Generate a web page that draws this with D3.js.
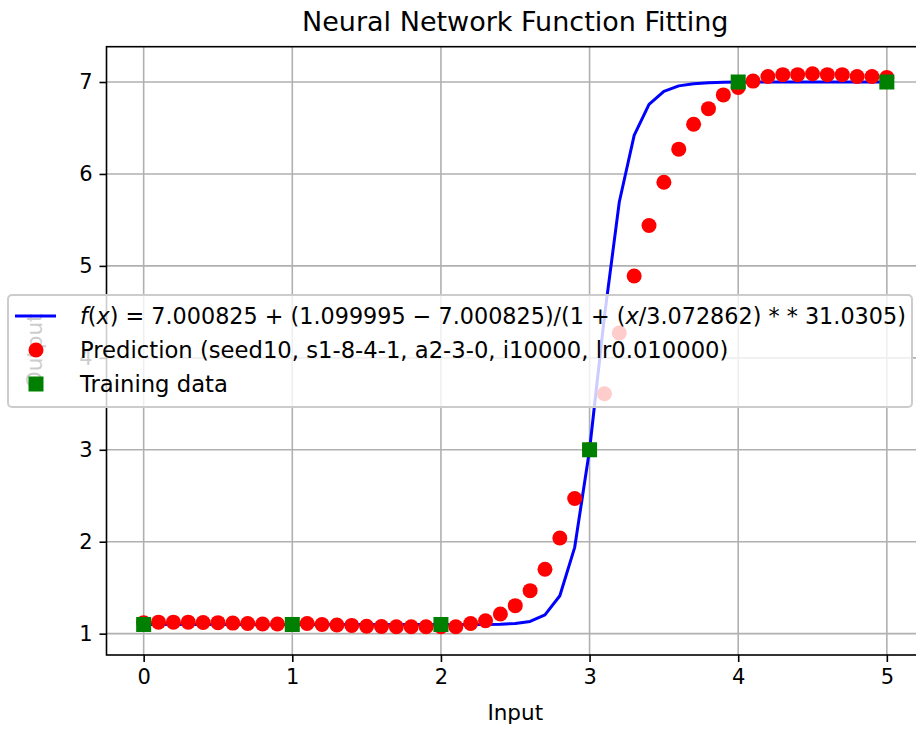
<!DOCTYPE html>
<html>
<head>
<meta charset="utf-8">
<script src="https://cdn.jsdelivr.net/npm/d3@7/dist/d3.min.js"></script>
<style>
  body { margin: 0; background: #fff; }
  svg { display: block; font-family: "DejaVu Sans", sans-serif; }
</style>
</head>
<body>
<svg id="chart" width="916" height="729"></svg>
<script>

// sample inputs (x) used for both the fitted curve and the network prediction
var xs = [0, 0.1, 0.2, 0.3, 0.4, 0.5, 0.6, 0.7, 0.8, 0.9,
          1, 1.1, 1.2, 1.3, 1.4, 1.5, 1.6, 1.7, 1.8, 1.9,
          2, 2.1, 2.2, 2.3, 2.4, 2.5, 2.6, 2.7, 2.8, 2.9,
          3, 3.1, 3.2, 3.3, 3.4, 3.5, 3.6, 3.7, 3.8, 3.9,
          4, 4.1, 4.2, 4.3, 4.4, 4.5, 4.6, 4.7, 4.8, 4.9, 5];

// blue curve f(x)
var fit_values = [1.100, 1.100, 1.100, 1.100, 1.100, 1.100, 1.100, 1.100, 1.100, 1.100,
                  1.100, 1.100, 1.100, 1.100, 1.100, 1.100, 1.100, 1.100, 1.100, 1.100,
                  1.100, 1.100, 1.100, 1.101, 1.103, 1.110, 1.133, 1.205, 1.412, 1.939,
                  3.000, 4.450, 5.695, 6.419, 6.756, 6.899, 6.958, 6.982, 6.993, 6.997,
                  6.999, 7.000, 7.000, 7.001, 7.001, 7.001, 7.001, 7.001, 7.001, 7.001, 7.001];

// red dots
var pred_values = [1.12, 1.125, 1.125, 1.125, 1.122, 1.12, 1.115, 1.11, 1.105, 1.105,
                   1.10, 1.11, 1.10, 1.095, 1.09, 1.08, 1.078, 1.076, 1.075, 1.075,
                   1.075, 1.076, 1.11, 1.14, 1.214, 1.305, 1.468, 1.70, 2.04, 2.47,
                   3.0, 3.61, 4.27, 4.89, 5.44, 5.91, 6.27, 6.54, 6.71, 6.86,
                   6.94, 7.01, 7.06, 7.08, 7.08, 7.09, 7.08, 7.08, 7.06, 7.06, 7.05];

// green squares
var train_x = [0, 1, 2, 3, 4, 5];
var train_y = [1.1, 1.1, 1.1, 3, 7, 7];

var x_ticks = [0, 1, 2, 3, 4, 5];
var y_ticks = [1, 2, 3, 4, 5, 6, 7];

var legend_labels = ["f(x) = 7.000825 + (1.099995 − 7.000825)/(1 + (x/3.072862) * * 31.0305)",
                     "Prediction (seed10, s1-8-4-1, a2-3-0, i10000, lr0.010000)",
                     "Training data"];

//-------------------------------------------------------------------------------------------------------------------------

var svg = d3.select("#chart");
var margin = {top: 46.7, left: 106.5, bottom: 74, right: -8};
var width = 916 - margin.left - margin.right,
    height = 729 - margin.top - margin.bottom;

var x = d3.scaleLinear()
    .domain([-0.25, 5.25])
    .range([margin.left, margin.left + width]);

var y = d3.scaleLinear()
    .domain([0.768, 7.384])
    .range([margin.top + height, margin.top]);

svg.append("defs").append("clipPath")
    .attr("id", "plot-clip")
  .append("rect")
    .attr("x", margin.left)
    .attr("y", margin.top)
    .attr("width", width)
    .attr("height", height);

// grid
svg.append("g")
    .selectAll("line.vgrid")
    .data(x_ticks)
  .enter().append("line")
    .attr("x1", d => x(d)).attr("x2", d => x(d))
    .attr("y1", margin.top).attr("y2", margin.top + height)
    .attr("stroke", "#b0b0b0").attr("stroke-width", 1.6);

svg.append("g")
    .selectAll("line.hgrid")
    .data(y_ticks)
  .enter().append("line")
    .attr("x1", margin.left).attr("x2", margin.left + width)
    .attr("y1", d => y(d)).attr("y2", d => y(d))
    .attr("stroke", "#b0b0b0").attr("stroke-width", 1.6);

// data
var plot = svg.append("g").attr("clip-path", "url(#plot-clip)");

var line = d3.line()
    .x((d, i) => x(xs[i]))
    .y(d => y(d));

plot.append("path")
    .datum(fit_values)
    .attr("d", line)
    .attr("fill", "none")
    .attr("stroke", "#0000ff")
    .attr("stroke-width", 3)
    .attr("stroke-linejoin", "round");

plot.selectAll("circle.pred")
    .data(pred_values)
  .enter().append("circle")
    .attr("class", "pred")
    .attr("cx", (d, i) => x(xs[i]))
    .attr("cy", d => y(d))
    .attr("r", 7.5)
    .attr("fill", "#ff0000");

var sq = 15;
plot.selectAll("rect.train")
    .data(train_y)
  .enter().append("rect")
    .attr("class", "train")
    .attr("x", (d, i) => x(train_x[i]) - sq / 2)
    .attr("y", d => y(d) - sq / 2)
    .attr("width", sq)
    .attr("height", sq)
    .attr("fill", "#008000");

// axes
var xAxis = svg.append("g")
    .attr("transform", `translate(0,${margin.top + height})`)
    .call(d3.axisBottom(x).tickValues(x_ticks).tickFormat(d3.format("d")).tickSizeInner(7).tickSizeOuter(0).tickPadding(7));

var yAxis = svg.append("g")
    .attr("transform", `translate(${margin.left},0)`)
    .call(d3.axisLeft(y).tickValues(y_ticks).tickFormat(d3.format("d")).tickSizeInner(7).tickSizeOuter(0).tickPadding(7));

[xAxis, yAxis].forEach(function(a) {
    a.selectAll("path.domain").remove();
    a.selectAll(".tick line").attr("stroke", "#000").attr("stroke-width", 1.6);
    a.selectAll(".tick text")
        .attr("font-family", "DejaVu Sans")
        .attr("font-size", "21px")
        .attr("fill", "#000");
});

// spines
svg.append("rect")
    .attr("x", margin.left)
    .attr("y", margin.top)
    .attr("width", width)
    .attr("height", height)
    .attr("fill", "none")
    .attr("stroke", "#000")
    .attr("stroke-width", 1.6);

// labels
svg.append("text")
    .attr("x", margin.left + width / 2)
    .attr("y", 31)
    .attr("text-anchor", "middle")
    .attr("font-size", "27px")
    .text("Neural Network Function Fitting");

svg.append("text")
    .attr("x", margin.left + width / 2)
    .attr("y", 720)
    .attr("text-anchor", "middle")
    .attr("font-size", "21.5px")
    .text("Input");

svg.append("text")
    .attr("transform", `translate(42,${margin.top + height / 2}) rotate(-90)`)
    .attr("text-anchor", "middle")
    .attr("font-size", "21.5px")
    .text("Output");

// legend
var legend = svg.append("g");

legend.append("rect")
    .attr("x", 8)
    .attr("y", 295)
    .attr("width", 904)
    .attr("height", 112)
    .attr("rx", 4)
    .attr("fill", "#fff")
    .attr("fill-opacity", 0.8)
    .attr("stroke", "#cccccc")
    .attr("stroke-width", 2);

var rows = [316, 350, 384];

legend.append("line")
    .attr("x1", 15).attr("x2", 56)
    .attr("y1", rows[0]).attr("y2", rows[0])
    .attr("stroke", "#0000ff").attr("stroke-width", 3);

legend.append("circle")
    .attr("cx", 36).attr("cy", rows[1]).attr("r", 7.5)
    .attr("fill", "#ff0000");

legend.append("rect")
    .attr("x", 36 - sq / 2).attr("y", rows[2] - sq / 2)
    .attr("width", sq).attr("height", sq)
    .attr("fill", "#008000");

// formula row with italic f and x (spaces around operators like mathtext)
var formula = legend.append("text")
    .attr("x", 80)
    .attr("y", rows[0] + 8)
    .attr("font-size", "22.3px");
var parts = [["f", true], ["(", false], ["x", true], [") = 7.000825 + (1.099995 − 7.000825)/(1 + (", false],
             ["x", true], ["/3.072862) * * 31.0305)", false]];
parts.forEach(function(p) {
    formula.append("tspan")
        .attr("font-style", p[1] ? "italic" : "normal")
        .text(p[0]);
});

legend.selectAll("text.lbl")
    .data(legend_labels.slice(1))
  .enter().append("text")
    .attr("class", "lbl")
    .attr("x", 80)
    .attr("y", (d, i) => rows[i + 1] + 8)
    .attr("font-size", "22.7px")
    .text(d => d);

</script>
</body>
</html>
